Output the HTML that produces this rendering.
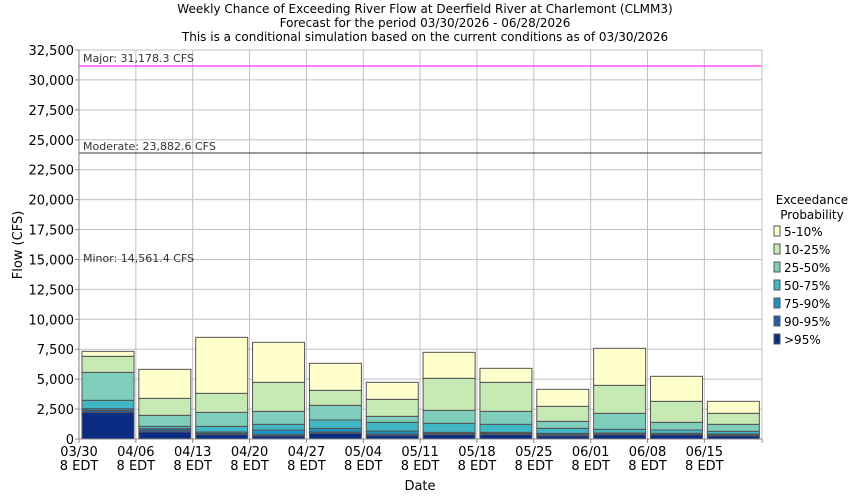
<!DOCTYPE html>
<html><head><meta charset="utf-8"><style>
body{margin:0;background:#fff;width:850px;height:500px;overflow:hidden;font-family:"DejaVu Sans","Liberation Sans",sans-serif}
svg text{font-family:"DejaVu Sans","Liberation Sans",sans-serif}
</style></head><body>
<svg id="s" width="850" height="500" xmlns="http://www.w3.org/2000/svg">
<rect width="850" height="500" fill="#fff"/>
<g font-size="12" text-anchor="middle" fill="#000">
<text x="425" y="13">Weekly Chance of Exceeding River Flow at Deerfield River at Charlemont (CLMM3)</text>
<text x="425" y="27">Forecast for the period 03/30/2026 - 06/28/2026</text>
<text x="425" y="41">This is a conditional simulation based on the current conditions as of 03/30/2026</text>
</g>
<g id="grid"></g>
<g id="bars"></g>
<g id="fg"></g>
</svg>
<script>
const NS="http://www.w3.org/2000/svg";
function el(p,t,a,txt){const e=document.createElementNS(NS,t);for(const k in a)e.setAttribute(k,a[k]);if(txt!==undefined)e.textContent=txt;p.appendChild(e);return e;}
const g=document.getElementById('grid'),b=document.getElementById('bars'),f=document.getElementById('fg');
const L=79,R=762,T=50,B=439,sp=56.85;
const yv=v=>B-v*(B-T)/32500;
for(let i=0;i<=13;i++){const v=i*2500,y=yv(v);
 el(g,'line',{x1:L,x2:R,y1:y,y2:y,stroke:'#c0c0c0','stroke-width':1});
 el(f,'text',{x:74,y:y+5,'font-size':13,'text-anchor':'end'},v.toLocaleString('en-US'));
 el(f,'line',{x1:L-4,x2:L,y1:y,y2:y,stroke:'#888'});}
const dates=['03/30','04/06','04/13','04/20','04/27','05/04','05/11','05/18','05/25','06/01','06/08','06/15'];
for(let i=0;i<12;i++){const x=L+i*sp;
 el(g,'line',{x1:x,x2:x,y1:T,y2:B,stroke:'#c0c0c0'});
 el(f,'line',{x1:x,x2:x,y1:B,y2:B+4,stroke:'#888'});
 el(f,'text',{x:x,y:456,'font-size':13,'text-anchor':'middle'},dates[i]);
 el(f,'text',{x:x,y:470,'font-size':13,'text-anchor':'middle'},'8 EDT');}
el(f,'line',{x1:R,x2:R,y1:B,y2:B+4,stroke:'#888'});
const cols=['#0c2c84','#225ea8','#1d91c0','#41b6c4','#7fcdbb','#c7e9b4','#ffffcc'];
const tops=[[247,241,236,211,127,79,64],[306,300,296,289,256,205,118],[314,310,306,289,247,190,22],[318,314,300,283,244,157,37],[310,306,295,270,226,181,100],[316,312,303,277,259,208,157],[314,310,307,280,241,145,67],[314,310,307,283,244,157,115],[318,314,310,295,274,229,178],[314,311,309,298,250,166,55],[314,312,310,300,277,214,139],[318,315,312,304,283,250,214]];
tops.forEach((t,i)=>{const x=L+i*sp+3;let prev=B;
 t.forEach((z,k)=>{const y=330+z/3;el(b,'rect',{x:x,y:y,width:52,height:prev-y,fill:cols[k],stroke:'#555','stroke-width':1});prev=y;});});
// thresholds
el(f,'line',{x1:L,x2:R,y1:66,y2:66,stroke:'#ff33ff','stroke-width':1.3});
el(f,'text',{x:83,y:62,'font-size':11,fill:'#333'},'Major: 31,178.3 CFS');
el(f,'line',{x1:L,x2:R,y1:153,y2:153,stroke:'#333','stroke-width':1});
el(f,'text',{x:83,y:150,'font-size':11,fill:'#333'},'Moderate: 23,882.6 CFS');
el(f,'text',{x:83,y:262,'font-size':11,fill:'#333'},'Minor: 14,561.4 CFS');
el(f,'line',{x1:L,x2:L,y1:T,y2:B,stroke:'#888'});
el(f,'line',{x1:R,x2:R,y1:T,y2:B,stroke:'#c0c0c0'});
el(f,'line',{x1:L,x2:R,y1:B,y2:B,stroke:'#888'});
el(f,'text',{x:420,y:490,'font-size':13,'text-anchor':'middle'},'Date');
el(f,'text',{x:0,y:0,'font-size':13,'text-anchor':'middle',transform:'translate(22,245) rotate(-90)'},'Flow (CFS)');
// legend
el(f,'text',{x:812,y:204,'font-size':12,'text-anchor':'middle'},'Exceedance');
el(f,'text',{x:812,y:219,'font-size':12,'text-anchor':'middle'},'Probability');
const lab=['5-10%','10-25%','25-50%','50-75%','75-90%','90-95%','>95%'];
lab.forEach((l,i)=>{const y=231+i*18;const c=cols[6-i];
 el(f,'rect',{x:774,y:y-5,width:6,height:10,fill:c,stroke:'#555'});
 el(f,'text',{x:784,y:y+5,'font-size':12},l);});
</script>
</body></html>
